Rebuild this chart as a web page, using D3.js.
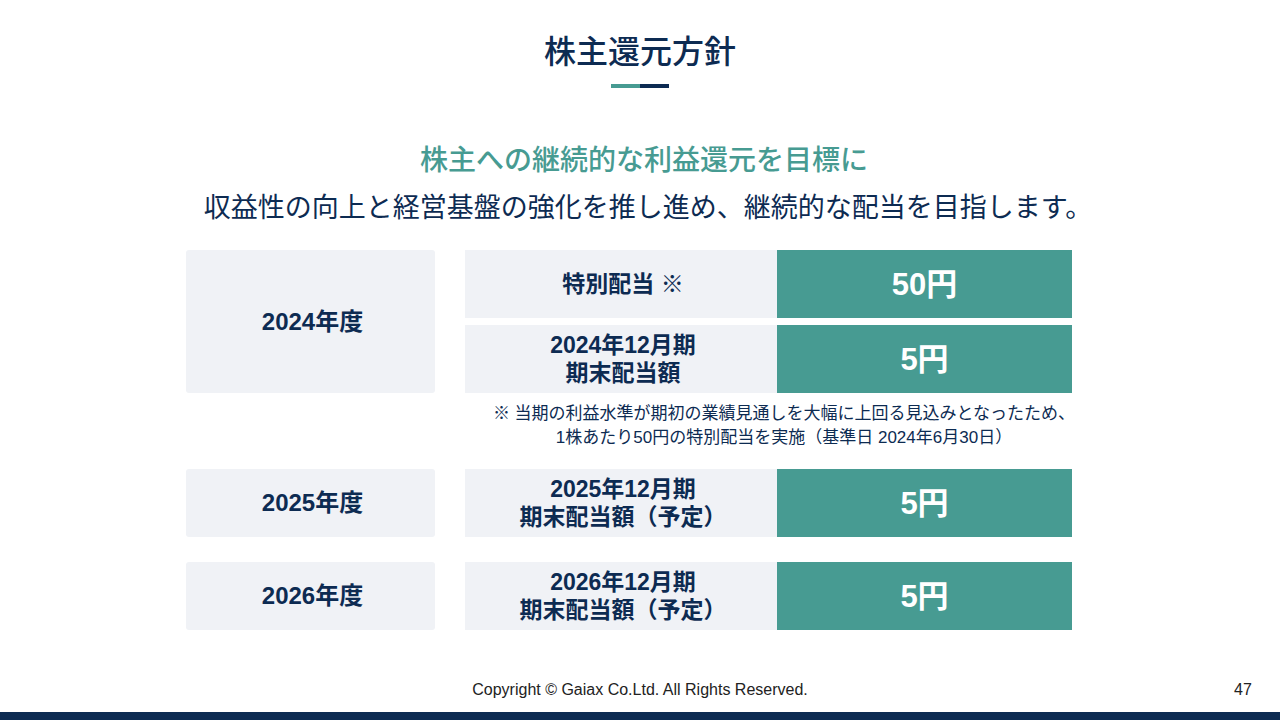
<!DOCTYPE html>
<html>
<head>
<meta charset="utf-8">
<script src="https://cdn.jsdelivr.net/npm/d3@7"></script>
<style>
  body { margin: 0; background: #fff; }
  svg { display: block; }
</style>
</head>
<body>
<svg id="viz"></svg>
<script>
const svg = d3.select("#viz");
const W = 1280, H = 720;
svg.attr("width", W).attr("height", H);

const navy = "#0d2b52";
const teal = "#479b92";
const grey = "#f0f2f6";
const font = "'Liberation Sans', 'Noto Sans CJK JP', sans-serif";

// data
const title = "株主還元方針";
const lead = "株主への継続的な利益還元を目標に";
const sub = "収益性の向上と経営基盤の強化を推し進め、継続的な配当を目指します。";
const years = ["2024年度", "2025年度", "2026年度"];
const itemYear = [0, 0, 1, 2];              // which year each dividend row belongs to
const itemLabels = [
  ["特別配当 ※"],
  ["2024年12月期", "期末配当額"],
  ["2025年12月期", "期末配当額（予定）"],
  ["2026年12月期", "期末配当額（予定）"]
];
const dividends = [50, 5, 5, 5];
const note = [
  "※ 当期の利益水準が期初の業績見通しを大幅に上回る見込みとなったため、",
  "1株あたり50円の特別配当を実施（基準日 2024年6月30日）"
];

// row top positions (rows 0,1 close together, then the note, then rows 2,3)
const rowTop = [250, 325, 469, 562];
const rowH = 68;

// title
svg.append("text")
  .attr("x", W / 2).attr("y", 63)
  .attr("text-anchor", "middle")
  .attr("font-family", font).attr("font-size", 32).attr("font-weight", 500)
  .attr("fill", navy)
  .text(title);

svg.append("rect").attr("x", 611).attr("y", 84).attr("width", 29).attr("height", 4).attr("fill", teal);
svg.append("rect").attr("x", 640).attr("y", 84).attr("width", 29).attr("height", 4).attr("fill", navy);

svg.append("text")
  .attr("x", 644).attr("y", 170)
  .attr("text-anchor", "middle")
  .attr("font-family", font).attr("font-size", 28).attr("font-weight", 500)
  .attr("fill", teal)
  .text(lead);

svg.append("text")
  .attr("x", 648).attr("y", 217)
  .attr("text-anchor", "middle")
  .attr("font-family", font).attr("font-size", 27)
  .attr("fill", navy)
  .text(sub);

// year cells span the rows of that year
const yearBox = years.map((y, i) => {
  const rows = itemYear.map((yy, j) => yy === i ? j : -1).filter(j => j >= 0);
  const top = rowTop[rows[0]];
  const bottom = rowTop[rows[rows.length - 1]] + rowH;
  return { label: y, top, h: bottom - top };
});

const yearG = svg.selectAll("g.year").data(yearBox).enter().append("g").attr("class", "year");
yearG.append("rect")
  .attr("x", 186).attr("y", d => d.top)
  .attr("width", 249).attr("height", d => d.h)
  .attr("rx", 3)
  .attr("fill", grey);
yearG.append("text")
  .attr("x", 186 + 249 / 2 + 2).attr("y", d => d.top + d.h / 2)
  .attr("dy", "0.35em")
  .attr("text-anchor", "middle")
  .attr("font-family", font).attr("font-size", 24).attr("font-weight", "bold")
  .attr("fill", navy)
  .text(d => d.label);

const rows = dividends.map((v, i) => ({ v, labels: itemLabels[i], top: rowTop[i] }));

const rowG = svg.selectAll("g.row").data(rows).enter().append("g").attr("class", "row");
rowG.append("rect")
  .attr("x", 465).attr("y", d => d.top)
  .attr("width", 312).attr("height", rowH)
  .attr("fill", grey);
rowG.append("rect")
  .attr("x", 777).attr("y", d => d.top)
  .attr("width", 295).attr("height", rowH)
  .attr("fill", teal);

rowG.each(function (d) {
  const g = d3.select(this);
  const n = d.labels.length;
  d.labels.forEach((t, k) => {
    g.append("text")
      .attr("x", 465 + 312 / 2 + 2)
      .attr("y", d.top + rowH / 2 + (k - (n - 1) / 2) * 28)
      .attr("dy", "0.35em")
      .attr("text-anchor", "middle")
      .attr("font-family", font).attr("font-size", 23).attr("font-weight", "bold")
      .attr("fill", navy)
      .text(t);
  });
});

rowG.append("text")
  .attr("x", 777 + 295 / 2).attr("y", d => d.top + rowH / 2)
  .attr("dy", "0.35em")
  .attr("text-anchor", "middle")
  .attr("font-family", font).attr("font-size", 31).attr("font-weight", "bold")
  .attr("fill", "#fff")
  .text(d => d.v + "円");

// footnote
svg.selectAll("text.note").data(note).enter().append("text")
  .attr("class", "note")
  .attr("x", 784).attr("y", (d, i) => 419 + i * 24)
  .attr("text-anchor", "middle")
  .attr("font-family", font).attr("font-size", 17)
  .attr("fill", navy)
  .text(d => d);

// footer
svg.append("text")
  .attr("x", 640).attr("y", 695)
  .attr("text-anchor", "middle")
  .attr("font-family", font).attr("font-size", 16)
  .attr("fill", "#222")
  .text("Copyright © Gaiax Co.Ltd. All Rights Reserved.");
svg.append("text")
  .attr("x", 1243).attr("y", 695)
  .attr("text-anchor", "middle")
  .attr("font-family", font).attr("font-size", 16)
  .attr("fill", "#222")
  .text("47");
svg.append("rect").attr("x", 0).attr("y", 712).attr("width", W).attr("height", 8).attr("fill", navy);
</script>
</body>
</html>
